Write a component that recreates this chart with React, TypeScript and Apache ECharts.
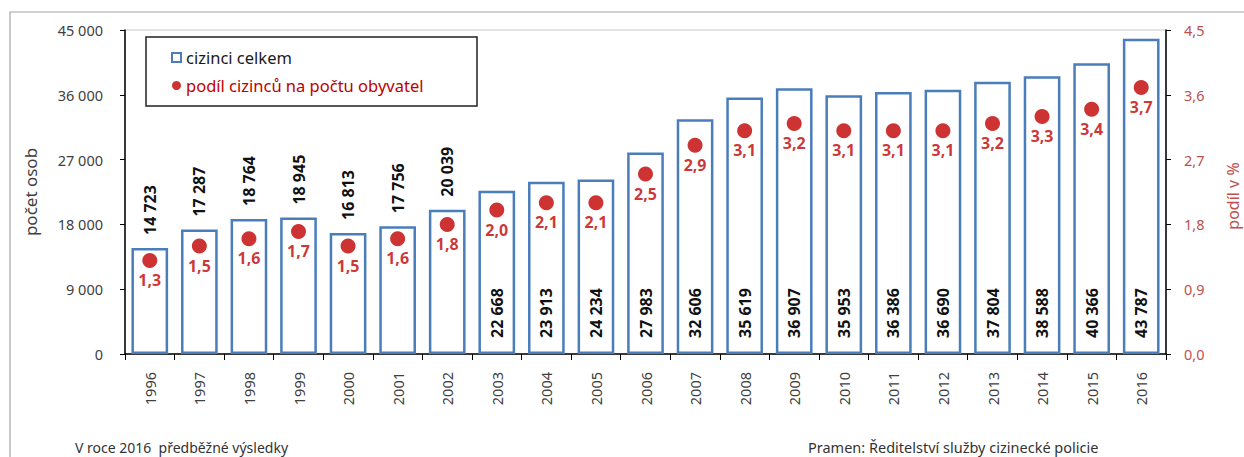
import React, { useEffect, useRef } from "react";
import * as echarts from "echarts";

const years = ["1996","1997","1998","1999","2000","2001","2002","2003","2004","2005","2006","2007","2008","2009","2010","2011","2012","2013","2014","2015","2016"];
const foreigners = [14723,17287,18764,18945,16813,17756,20039,22668,23913,24234,27983,32606,35619,36907,35953,36386,36690,37804,38588,40366,43787];
const sharePct = [1.3,1.5,1.6,1.7,1.5,1.6,1.8,2.0,2.1,2.1,2.5,2.9,3.1,3.2,3.1,3.1,3.1,3.2,3.3,3.4,3.7];
const labelAboveUntilYear = "2002";
const seriesNames = ["cizinci celkem", "podíl cizinců na počtu obyvatel"];
const leftTitle = "počet osob";
const rightTitle = "podíl v %";
const noteLeft = "V roce 2016  předběžné výsledky";
const noteRight = "Pramen: Ředitelství služby cizinecké policie";

const FONT = "Noto Sans";
const fmtThousands = (v: number) => String(v).replace(/\B(?=(\d{3})+(?!\d))/g, " ");
const fmtPct = (v: number) => v.toFixed(1).replace(".", ",");

export default function App() {
  const ref = useRef<HTMLDivElement>(null);
  useEffect(() => {
    document.body.style.margin = "0";
    const chart = echarts.init(ref.current!, null, { renderer: "svg" });
    const cutoff = years.indexOf(labelAboveUntilYear);
    const barData = foreigners.map((v, i) =>
      i <= cutoff
        ? { value: v, label: { position: "top", distance: 13 } }
        : { value: v }
    );
    chart.setOption({
      animation: false,
      textStyle: { fontFamily: FONT },
      grid: {
        left: 125, right: 78, top: 30, bottom: 103,
        show: true, borderColor: "#c8c8c8", borderWidth: 1, backgroundColor: "transparent",
      },
      legend: {
        show: true,
        orient: "vertical",
        left: 166, top: 44,
        itemGap: 11,
        itemWidth: 9, itemHeight: 9,
        textStyle: { fontFamily: FONT, fontSize: 16.5 },
        data: [
          { name: seriesNames[0], icon: "rect", textStyle: { color: "#1a1a1a" } },
          { name: seriesNames[1], icon: "circle", textStyle: { color: "#c00000" } },
        ],
      },
      xAxis: {
        type: "category",
        data: years,
        axisLine: { lineStyle: { color: "#000", width: 1.5 } },
        axisTick: { show: true, length: 6, lineStyle: { color: "#000" } },
        axisLabel: { rotate: 90, fontSize: 14.5, color: "#404040", margin: 18, fontFamily: FONT },
      },
      yAxis: [
        {
          type: "value", min: 0, max: 45000, interval: 9000,
          name: leftTitle, nameLocation: "middle", nameGap: 86, nameRotate: 90,
          nameTextStyle: { fontSize: 17, color: "#404040", fontFamily: FONT },
          axisLine: { show: true, lineStyle: { color: "#000", width: 1.5 } },
          axisTick: { show: true, length: 5, lineStyle: { color: "#000" } },
          splitLine: { show: false },
          axisLabel: { formatter: fmtThousands, fontSize: 14.5, color: "#404040", margin: 22, fontFamily: FONT },
        },
        {
          type: "value", min: 0, max: 4.5, interval: 0.9, position: "right",
          axisLine: { show: true, lineStyle: { color: "#000", width: 1.5 } },
          axisTick: { show: true, length: 5, lineStyle: { color: "#000" } },
          splitLine: { show: false },
          axisLabel: { formatter: (v: number) => fmtPct(v), fontSize: 14.5, color: "#c0504d", margin: 18, fontFamily: FONT },
        },
      ],
      series: [
        {
          name: seriesNames[0],
          type: "bar",
          barWidth: "74%",
          itemStyle: { color: "#ffffff", borderColor: "#4a7ebb", borderWidth: 2.5 },
          label: {
            show: true,
            position: "insideBottom",
            distance: 16,
            rotate: 90,
            align: "left",
            verticalAlign: "middle",
            fontSize: 16,
            fontWeight: "bold",
            color: "#111",
            fontFamily: FONT,
            formatter: (p: any) => fmtThousands(p.value),
          },
          data: barData,
          z: 2,
        },
        {
          name: seriesNames[1],
          type: "scatter",
          yAxisIndex: 1,
          symbolSize: 15,
          itemStyle: { color: "#c00000" },
          label: {
            show: true,
            position: "bottom",
            distance: 4,
            fontSize: 16,
            fontWeight: "bold",
            color: "#c00000",
            fontFamily: FONT,
            formatter: (p: any) => fmtPct(p.value),
          },
          data: sharePct,
          z: 5,
        },
      ],
      graphic: [
        {
          type: "rect",
          shape: { x: 10, y: 12, width: 1400, height: 600 },
          style: { fill: "none", stroke: "#a6a6a6", lineWidth: 1.2 },
          silent: true, z: -1,
        },
        {
          type: "rect",
          shape: { x: 146, y: 37, width: 331, height: 69 },
          style: { fill: "#fff", stroke: "#222", lineWidth: 1.5 },
          silent: true, z: 0,
        },
        {
          type: "text", x: 1233, y: 196, rotation: Math.PI / 2,
          style: { text: rightTitle, fontSize: 16, fill: "#c0504d", fontFamily: FONT, align: "center", verticalAlign: "middle" },
        },
        {
          type: "text", x: 75, y: 447,
          style: { text: noteLeft, fontSize: 14, fill: "#333", fontFamily: FONT, verticalAlign: "middle" },
        },
        {
          type: "text", x: 808, y: 447,
          style: { text: noteRight, fontSize: 14.5, fill: "#333", fontFamily: FONT, verticalAlign: "middle" },
        },
      ],
    });
    return () => chart.dispose();
  }, []);
  return <div ref={ref} style={{ width: 1244, height: 457 }} />;
}
